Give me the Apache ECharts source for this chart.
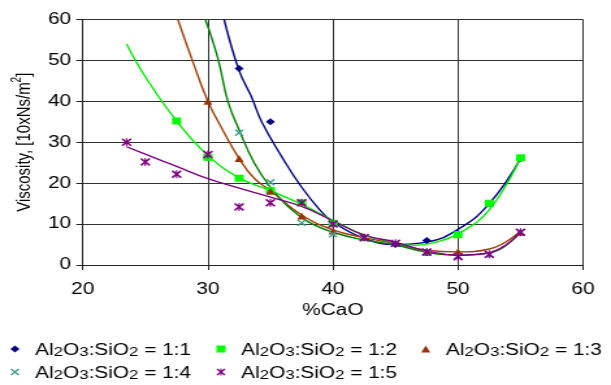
<!DOCTYPE html>
<html><head><meta charset="utf-8">
<script src="https://cdn.jsdelivr.net/npm/echarts@6/dist/echarts.min.js"></script>
<style>
html,body{margin:0;padding:0;background:#fff;overflow:hidden;}
#c{width:470px;height:385px;transform:scaleX(1.3);transform-origin:0 0;}
</style></head>
<body><div id="c"></div>
<script>
// ---- data ----
const seriesNames = ['Al2O3:SiO2 = 1:1','Al2O3:SiO2 = 1:2','Al2O3:SiO2 = 1:3','Al2O3:SiO2 = 1:4','Al2O3:SiO2 = 1:5'];

// measured points
const s1X = [32.5, 35, 40, 45, 47.5, 52.5, 55];
const s1Y = [48, 35, 10, 5, 6, 15, 26];
const s2X = [27.5, 30, 32.5, 35, 37.5, 40, 50, 52.5, 55];
const s2Y = [35.2, 26.3, 21.2, 18.2, 15.2, 10.2, 7.4, 15.1, 26.2];
const s3X = [30, 32.5, 35, 37.5, 40, 42.5, 47.5, 50, 55];
const s3Y = [40, 26, 18, 12, 8.3, 6.8, 3.1, 3.3, 8];
const s4X = [32.5, 35, 37.5, 40, 42.5, 47.5, 50, 52.5, 55];
const s4Y = [32.3, 20.2, 10.3, 7.5, 6.5, 3, 2.2, 2.5, 8];
const s5X = [23.5, 25, 27.5, 30, 32.5, 35, 37.5, 40, 42.5, 45, 47.5, 50, 52.5, 55];
const s5Y = [30, 25.2, 22.2, 27, 14.2, 15.2, 15.2, 10, 6.7, 5.3, 3.2, 2, 2.6, 8];

// trend lines
const t1X = [31.3, 32.5, 33.5, 34.3, 36, 37.5, 39, 40, 42.5, 45, 47.5, 50, 52.5, 55];
const t1Y = [60, 47.5, 41, 35, 26, 19, 13.3, 10.5, 6.5, 5.0, 5.6, 8.7, 15, 26];
const t2X = [23.5, 25, 27.5, 30, 32.5, 35, 37.5, 40, 42.5, 45, 46.5, 48, 50, 52.5, 55];
const t2Y = [54, 46, 35.2, 26.8, 21.3, 18.2, 14.8, 10.9, 7.3, 5.4, 4.8, 5.4, 7.6, 13.5, 26.2];
const t3X = [27.6, 28.7, 30, 31.1, 32.5, 33.7, 35, 37.5, 40, 42.5, 45, 47.5, 50, 52.5, 55];
const t3Y = [60, 50.5, 40, 33.5, 26, 21.2, 18.2, 12.2, 8.6, 6.7, 5.2, 3.6, 3.2, 3.9, 8.3];
const t4X = [29.8, 30.8, 31.6, 32.5, 33.7, 35, 36.4, 38, 40, 42.5, 45, 47.5, 50, 52.5, 55];
const t4Y = [60, 50.5, 40, 33, 25, 19, 14.3, 10.6, 8.0, 6.1, 4.9, 3.1, 2.4, 2.9, 8.1];
const t5X = [23.5, 25, 27.5, 30, 32.5, 35, 37.5, 40, 42.5, 45, 47.5, 50, 52.5, 55];
const t5Y = [28.9, 27.1, 24.1, 21.1, 18.8, 16.6, 14.3, 10.8, 7.3, 5.6, 3.4, 2.4, 3.0, 8];

const markerColors = ['#000080', '#00ff00', '#993300', '#3f9e8e', '#800080'];
const lineColors = ['#000080', '#00ee00', '#a0400a', '#008000', '#800080'];

// ---- helpers ----
const zip = (a, b) => a.map((v, i) => [v, b[i]]);
const X_PATH = 'path://M0,1.4L1.4,0L5,3.6L8.6,0L10,1.4L6.4,5L10,8.6L8.6,10L5,6.4L1.4,10L0,8.6L3.6,5Z';
const STAR_PATH = 'path://M0,1.4L1.4,0L5,3.6L8.6,0L10,1.4L6.4,5L10,8.6L8.6,10L5,6.4L1.4,10L0,8.6L3.6,5Z M4.3,0L5.7,0L5.7,10L4.3,10Z';
const symbols = ['diamond', 'rect', 'triangle', X_PATH, STAR_PATH];
const symbolSizes = [7, 7, 7, 7, 8];

function toRich(name) {
  let out = '';
  for (let i = 0; i < name.length; i++) {
    const ch = name[i];
    const prev = i > 0 ? name[i - 1] : '';
    if (/\d/.test(ch) && /[A-Za-z]/.test(prev)) out += '{s|' + ch + '}';
    else out += '{n|' + ch + '}';
  }
  return out;
}

const sX = [s1X, s2X, s3X, s4X, s5X], sY = [s1Y, s2Y, s3Y, s4Y, s5Y];
const tX = [t1X, t2X, t3X, t4X, t5X], tY = [t1Y, t2Y, t3Y, t4Y, t5Y];

const series = [];
for (let i = 0; i < 5; i++) {
  series.push({
    name: 'trend' + (i + 1), type: 'line', data: zip(tX[i], tY[i]),
    smooth: 0.45, showSymbol: false, symbol: 'none', silent: true,
    lineStyle: { color: lineColors[i], width: 1.4 }, z: 2, clip: true
  });
}
for (let i = 0; i < 5; i++) {
  series.push({
    name: seriesNames[i], type: 'scatter', data: zip(sX[i], sY[i]),
    symbol: symbols[i], symbolSize: symbolSizes[i],
    itemStyle: { color: markerColors[i], opacity: 1 }, z: 3 + i
  });
}

const legendPos = [[8, 343], [166.5, 343], [324, 343], [8, 366], [166.5, 366]];
const legends = seriesNames.map((nm, i) => ({
  data: [nm], left: legendPos[i][0], top: legendPos[i][1], padding: 0,
  itemWidth: 7, itemHeight: 7, selectedMode: false,
  formatter: toRich,
  textStyle: {
    padding: [0, 0, 0, 7],
    rich: {
      n: { fontFamily: 'Liberation Sans', fontSize: 16, color: '#000', lineHeight: 20, verticalAlign: 'bottom' },
      s: { fontFamily: 'Liberation Sans', fontSize: 13, color: '#000', lineHeight: 12, verticalAlign: 'bottom' }
    }
  }
}));

const chart = echarts.init(document.getElementById('c'), null, { renderer: 'canvas' });
chart.setOption({
  animation: false,
  backgroundColor: '#fff',
  grid: { left: 62.3, right: 21.5, top: 19.5, bottom: 120, containLabel: false },
  legend: legends,
  xAxis: {
    type: 'value', min: 20, max: 60, interval: 10,
    name: '%CaO', nameLocation: 'middle', nameGap: 26,
    nameTextStyle: { fontFamily: 'Liberation Sans', fontSize: 16, color: '#000' },
    axisLine: { show: true, lineStyle: { color: '#222', width: 1 } },
    axisTick: { show: true, length: 5, lineStyle: { color: '#222' } },
    splitLine: { show: true, lineStyle: { color: '#333', width: 1 } },
    axisLabel: { fontFamily: 'Liberation Sans', fontSize: 16, color: '#000', margin: 17 }
  },
  yAxis: {
    type: 'value', min: 0, max: 60, interval: 10,
    name: '{a|Viscosity, [10xNs/m}{b|2}{a|]}', nameLocation: 'middle', nameGap: 33,
    nameRotate: 90,
    nameTextStyle: {
      rich: {
        a: { fontFamily: 'Liberation Sans', fontSize: 15, color: '#000', lineHeight: 18, verticalAlign: 'bottom' },
        b: { fontFamily: 'Liberation Sans', fontSize: 10, color: '#000', lineHeight: 10, verticalAlign: 'top' }
      }
    },
    axisLine: { show: true, lineStyle: { color: '#222', width: 1 } },
    axisTick: { show: true, length: 5, lineStyle: { color: '#222' } },
    splitLine: { show: true, lineStyle: { color: '#333', width: 1 } },
    axisLabel: { fontFamily: 'Liberation Sans', fontSize: 16, color: '#000', margin: 9 }
  },
  series: series
});
</script>
</body></html>
